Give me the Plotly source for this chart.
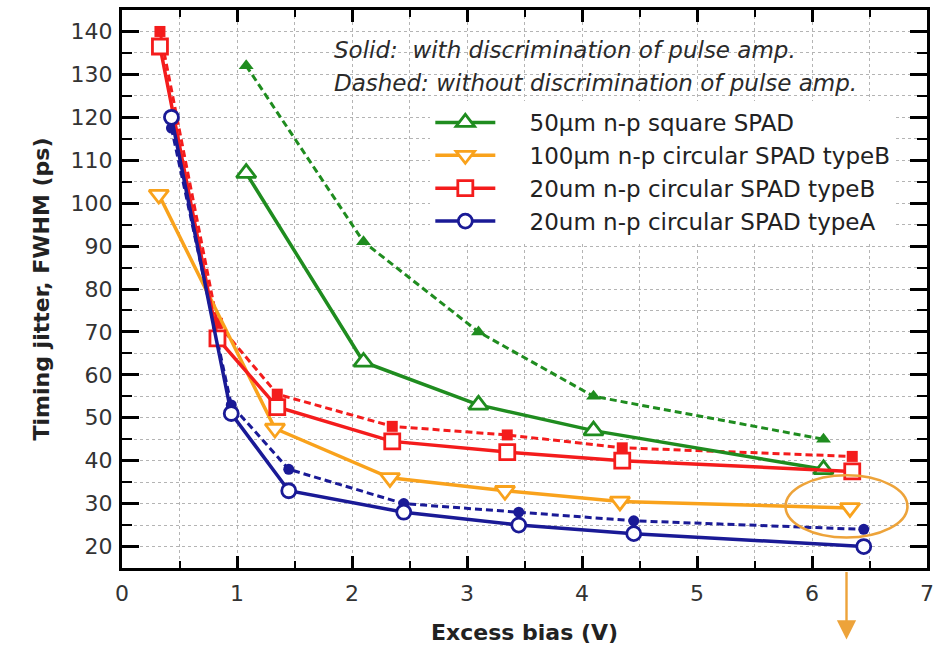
import plotly.graph_objects as go

# Excess bias (V) for each device
bias_sq50 = [1.08, 2.1, 3.1, 4.1, 6.1]
bias_circ100b = [0.32, 1.33, 2.33, 3.33, 4.33, 6.33]
bias_circ20b = [0.33, 0.83, 1.35, 2.35, 3.35, 4.35, 6.35]
bias_circ20a = [0.43, 0.95, 1.45, 2.45, 3.45, 4.45, 6.45]

# Timing jitter FWHM (ps): with / without pulse-amplitude discrimination
jit_sq50_with = [107, 63, 53, 47, 38]
jit_sq50_without = [132, 91, 70, 55, 45]
jit_circ100b_with = [102, 47.5, 36, 33, 30.5, 29]
jit_circ20b_with = [136.5, 68.5, 52.5, 44.5, 42, 40, 37.5]
jit_circ20b_without = [140, 72, 55.5, 48, 46, 43, 41]
jit_circ20a_with = [120, 51, 33, 28, 25, 23, 20]
jit_circ20a_without = [117.5, 53, 38, 30, 28, 26, 24]

names = [
    "50µm n-p square SPAD",
    "100µm n-p circular SPAD typeB",
    "20um n-p circular SPAD typeB",
    "20um n-p circular SPAD typeA",
]

GREEN = "#1f8c1f"
ORANGE = "#f9a21c"
RED = "#f41c1c"
BLUE = "#1a1a96"
HIGHLIGHT = "#eda33a"
FONT = "DejaVu Sans"
PAD = "\u00a0" * 4  # gap between legend symbol and label

fig = go.Figure()

# dashed series (no discrimination), filled markers, no legend entry
dashed = [
    (bias_sq50, jit_sq50_without, GREEN, "triangle-up", 13),
    (bias_circ20b, jit_circ20b_without, RED, "square", 11),
    (bias_circ20a, jit_circ20a_without, BLUE, "circle", 11),
]
for xs, ys, col, sym, sz in dashed:
    fig.add_trace(go.Scatter(
        x=xs, y=ys, mode="lines+markers", showlegend=False,
        line=dict(color=col, width=3, dash="7px,4px"),
        marker=dict(symbol=sym, size=sz, color=col),
    ))

# solid series (with discrimination), open markers
solid = [
    (bias_sq50, jit_sq50_with, GREEN, "triangle-up", 17, names[0]),
    (bias_circ100b, jit_circ100b_with, ORANGE, "triangle-down", 17, names[1]),
    (bias_circ20b, jit_circ20b_with, RED, "square", 15, names[2]),
    (bias_circ20a, jit_circ20a_with, BLUE, "circle", 14, names[3]),
]
for xs, ys, col, sym, sz, nm in solid:
    fig.add_trace(go.Scatter(
        x=xs, y=ys, mode="lines+markers", name=PAD + nm,
        line=dict(color=col, width=3.5),
        marker=dict(symbol=sym, size=sz, color="white",
                    line=dict(color=col, width=2.8)),
    ))

grid = dict(showgrid=True, gridcolor="#b4b4b4", gridwidth=1, griddash="dot")

fig.update_xaxes(
    range=[0, 7], dtick=1, tick0=0, automargin=False,
    ticks="inside", ticklen=12, tickwidth=2.5, tickcolor="black",
    showline=True, linewidth=3, linecolor="black", mirror="allticks",
    zeroline=False, ticklabelstandoff=4,
    minor=dict(dtick=0.5, ticks="inside", ticklen=7, tickwidth=2,
               tickcolor="black", **grid),
    tickfont=dict(family=FONT, size=22, color="#333"),
    title=dict(text="<b>Excess bias (V)</b>",
               font=dict(family=FONT, size=22, color="#222"), standoff=20),
    **grid,
)
fig.update_yaxes(
    range=[15, 145], dtick=10, tick0=0, automargin=False,
    ticks="inside", ticklen=17, tickwidth=2.5, tickcolor="black",
    showline=True, linewidth=3, linecolor="black", mirror="allticks",
    zeroline=False, ticklabelstandoff=2,
    minor=dict(dtick=5, ticks="inside", ticklen=10, tickwidth=2,
               tickcolor="black", **grid),
    tickfont=dict(family=FONT, size=22, color="#333"),
    title=dict(text="<b>Timing jitter, FWHM (ps)</b>",
               font=dict(family=FONT, size=22, color="#222"), standoff=15),
    **grid,
)

# highlight ellipse and arrow
fig.add_shape(type="circle", xref="x", yref="y",
              x0=5.77, x1=6.83, y0=22.1, y1=36.6,
              line=dict(color=HIGHLIGHT, width=2.6), layer="above")
fig.add_annotation(xref="x", yref="paper", x=6.30, y=-0.128,
                   ax=0, ay=-69, text="", showarrow=True,
                   arrowhead=2, arrowsize=1.6, arrowwidth=2.4,
                   arrowcolor=HIGHLIGHT)

note_font = dict(family=FONT, size=23, color="#2a2a2a")
fig.add_annotation(xref="paper", yref="paper", x=(332 - 122) / 805, y=(568 - 50) / 558,
                   xanchor="left", yanchor="middle", showarrow=False,
                   text="<i>Solid:  with discrimination of pulse amp.</i>", font=note_font)
fig.add_annotation(xref="paper", yref="paper", x=(332 - 122) / 805, y=(568 - 83) / 558,
                   xanchor="left", yanchor="middle", showarrow=False,
                   text="<i>Dashed: without discrimination of pulse amp.</i>", font=note_font)

fig.update_layout(
    width=949, height=647,
    margin=dict(l=122, r=22, t=10, b=79),
    paper_bgcolor="white", plot_bgcolor="white",
    legend=dict(x=0.383, y=0.837, xanchor="left", yanchor="top",
                bgcolor="white", borderwidth=0,
                font=dict(family=FONT, size=23, color="#222"),
                itemwidth=60),
)

fig.write_html("out.html")
